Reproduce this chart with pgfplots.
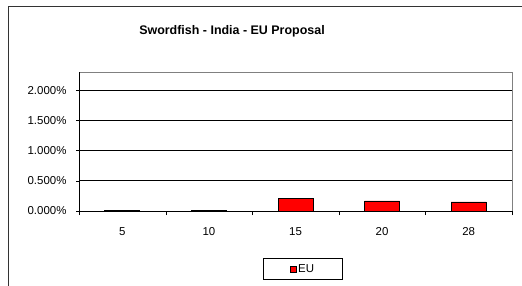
\documentclass[border=0pt]{standalone}
\usepackage{pgfplots}
\pgfplotsset{compat=1.18}
\usepackage{fontspec}
\setmainfont{Liberation Sans}
\begin{document}
\begin{tikzpicture}[x=1bp,y=1bp]
\useasboundingbox (0,0) rectangle (522,285);
\draw[line width=1bp, black!80] (8,-5) -- (8,278) -- (530,278);
\node[font=\fontsize{12.5}{14}\selectfont\bfseries] at (232,254) {Swordfish - India - EU Proposal};
\begin{axis}[
  at={(79bp,74bp)}, anchor=south west,
  scale only axis, width=433bp, height=139bp,
  xmin=-0.5, xmax=4.5, ymin=0, ymax=2.3,
  major tick length=3bp,
  tick align=outside,
  xtick={0,1,2,3,4}, xticklabels={5,10,15,20,28},
  xtick style={draw=none},
  extra x ticks={-0.5,0.5,1.5,2.5,3.5,4.5},
  extra x tick labels={},
  extra x tick style={major tick length=4bp, xtick style={draw=black}, tick pos=left},
  ytick={0,0.5,1,1.5,2},
  yticklabels={0.000\%,0.500\%,1.000\%,1.500\%,2.000\%},
  ytick pos=left,
  ytick style={draw=black},
  ymajorgrids, grid style={black, line width=0.8bp},
  axis line style={draw=gray, line width=0.8bp},
  tick label style={font=\fontsize{11.5}{13}\selectfont},
  xticklabel style={yshift=-10bp},
  yticklabel style={xshift=-6bp},
  legend style={at={(0.517,-0.417)}, anchor=center, draw=black, line width=0.8bp,
    inner xsep=26bp, inner ysep=4bp, font=\fontsize{11.5}{13}\selectfont, legend columns=1},
  legend image code/.code={\draw[fill=red,draw=black,line width=0.6bp] (0bp,-3bp) rectangle (6bp,3bp);},
  legend cell align=left,
]
\addplot[ybar, bar width=35bp, fill=red, draw=black, line width=0.8bp] coordinates {(0,0.015) (1,0.015) (2,0.205) (3,0.167) (4,0.15)};
\addlegendentry{EU}
\draw[black, line width=0.8bp] (rel axis cs:0,0) -- (rel axis cs:1,0);
\draw[black, line width=0.8bp] (rel axis cs:0,0) -- (rel axis cs:0,1);
\end{axis}
\end{tikzpicture}
\end{document}
